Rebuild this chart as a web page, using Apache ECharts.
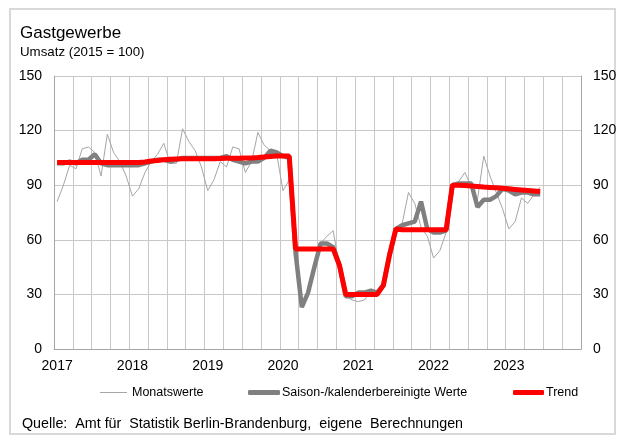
<!DOCTYPE html>
<html><head><meta charset="utf-8">
<script src="https://cdn.jsdelivr.net/npm/echarts@6/dist/echarts.min.js"></script>
<style>html,body{margin:0;padding:0;background:#fff}#c{width:624px;height:438px}</style>
</head><body><div id="c"></div>
<script>
const years = ['2017','2018','2019','2020','2021','2022','2023'];
const yTicks = [0, 30, 60, 90, 120, 150];
const monatswerte = [81,90,101,99,110,111,108,95,118,108,103,95,
  84,88,97,103,107,113,102,102,121,114,109,100,
  87,93,103,100,111,110,97,103,119,112,109,107,
  87,93,50,24,31,45,58,62,65,45,29,27,
  26,27,32,30,35,52,65,69,86,80,67,62,
  50,54,64,90,92,97,89,82,106,95,86,77,
  66,70,83,80,85,89];
const saison = [102,102,103,102,104,104,107,102,101,101,101,101,
  101,101,102,103,104,104,103,104,105,105,105,105,
  105,105,105,106,104,103,102,103,103,105,109,108,
  106,105,53,23,31,45,58,58,56,46,29,29,
  31,31,32,31,35,52,66,68,69,70,81,66,
  64,64,65,90,91,91,91,78,82,82,84,88,
  87,85,86,86,85,85];
const trend = [102.5,102.5,102.5,102.5,102.5,102.5,102.5,102.5,102.5,102.5,102.5,102.5,
  102.5,102.5,102.7,103.3,103.6,104,104.2,104.4,104.5,104.6,104.6,104.6,
  104.6,104.6,104.7,104.8,104.8,104.8,104.9,105,105.2,105.5,105.8,106,
  106,106,55,55,55,55,55,55,55,46,30,30,
  30,30,30,30,35,52,66,65.5,65.5,65.5,65.5,65.5,
  65.5,65.5,65.5,90,90,89.8,89.5,89.3,89,88.8,88.6,88.3,
  88,87.7,87.4,87.1,86.8,86.5];

const categories = [];
years.forEach(y => { for (let m = 1; m <= 12; m++) categories.push(y + '-' + m); });

const font = 'Liberation Sans, Arial, sans-serif';
const chart = echarts.init(document.getElementById('c'));
const yAxisCommon = {
  type: 'value', min: yTicks[0], max: yTicks[yTicks.length-1], interval: 30,
  axisLine: {show: true, lineStyle: {color: '#a6a6a6', width: 1}},
  axisTick: {show: false},
  splitLine: {show: true, lineStyle: {color: '#c8c8c8', width: 1}},
  axisLabel: {color: '#000', fontSize: 14, fontFamily: font, margin: 12}
};
const legText = {fontSize: 12.5, fontFamily: font, color: '#000'};
chart.setOption({
  animation: false,
  backgroundColor: '#fff',
  grid: {left: 54, right: 43, top: 76, bottom: 89},
  xAxis: {
    type: 'category', data: categories, boundaryGap: true,
    axisLine: {show: true, lineStyle: {color: '#a6a6a6'}},
    axisTick: {show: false, interval: 2},
    axisLabel: {interval: 11, color: '#000', fontSize: 14, fontFamily: font, margin: 10,
      formatter: v => v.split('-')[0]},
    splitLine: {show: true, interval: 2, lineStyle: {color: '#c8c8c8', width: 1}}
  },
  yAxis: [
    Object.assign({position: 'left'}, yAxisCommon),
    Object.assign({position: 'right'}, yAxisCommon, {splitLine: {show: false}})
  ],
  legend: [
    {left: 100, top: 386, padding: 0, icon: 'rect', itemWidth: 27, itemHeight: 1, data: ['Monatswerte'],
     itemStyle: {color: '#a6a6a6'}, textStyle: legText},
    {left: 248, top: 386, padding: 0, icon: 'roundRect', itemWidth: 32, itemHeight: 5, data: ['Saison-/kalenderbereinigte Werte'],
     itemStyle: {color: '#808080'}, textStyle: Object.assign({padding: [0,0,0,-3]}, legText)},
    {left: 513, top: 386, padding: 0, icon: 'roundRect', itemWidth: 31, itemHeight: 5, data: ['Trend'],
     itemStyle: {color: '#ff0000'}, textStyle: Object.assign({padding: [0,0,0,-3]}, legText)}
  ],
  graphic: [
    {type: 'rect', shape: {x: 10, y: 9, width: 605, height: 425}, silent: true,
     style: {fill: 'none', stroke: '#d9d9d9', lineWidth: 2}},
    {type: 'text', left: 20, top: 25, style: {text: 'Gastgewerbe', font: '17px ' + font, fill: '#000'}},
    {type: 'text', left: 20, top: 46, style: {text: 'Umsatz (2015 = 100)', font: '13.3px ' + font, fill: '#000'}},
    {type: 'text', left: 22, top: 417, style: {text: 'Quelle:  Amt für  Statistik Berlin-Brandenburg,  eigene  Berechnungen', font: '14.3px ' + font, fill: '#000'}}
  ],
  series: [
    {name: 'Monatswerte', type: 'line', data: monatswerte, symbol: 'none', yAxisIndex: 0,
     lineStyle: {color: '#a6a6a6', width: 1}, itemStyle: {color: '#a6a6a6'}},
    {name: 'Saison-/kalenderbereinigte Werte', type: 'line', data: saison, symbol: 'none', yAxisIndex: 0,
     lineStyle: {color: '#808080', width: 4.5}, itemStyle: {color: '#808080'}},
    {name: 'Trend', type: 'line', data: trend, symbol: 'none', yAxisIndex: 0,
     lineStyle: {color: '#ff0000', width: 5}, itemStyle: {color: '#ff0000'}}
  ]
});
</script></body></html>
